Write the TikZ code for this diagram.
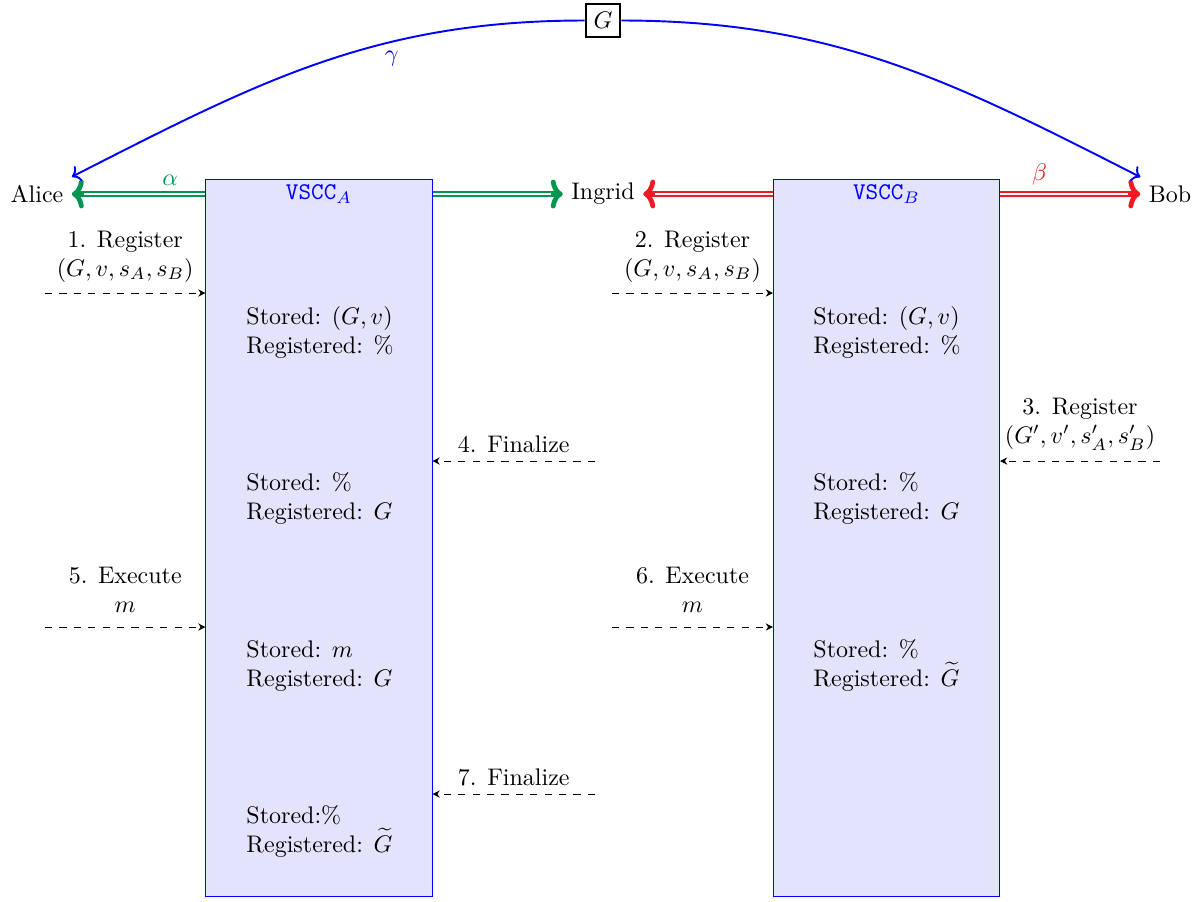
\documentclass[tikz,border=0pt]{standalone}
\usetikzlibrary{arrows.meta}
\definecolor{mygreen}{RGB}{0,150,80}
\definecolor{myred}{RGB}{237,28,36}
\definecolor{boxfill}{RGB}{227,227,251}
\tikzset{
  gbox/.style={draw, thick},
  dbl/.style={thick, double, double distance=1.1pt, shorten <=2pt, shorten >=2pt},
  tiparr/.style={thick, -{Computer Modern Rightarrow[length=5pt,width=12pt,line width=2pt]}},
  vbox/.style={draw=blue, fill=boxfill, minimum width=94.2pt, minimum height=298.8pt, inner sep=0pt},
  txt/.style={anchor=base west, inner sep=0pt},
  dasharr/.style={dashed, -{Stealth[length=3pt,width=3pt]}},
  lbl/.style={align=center},
  curv/.style={blue, thick, ->},
}
\begin{document}
\begin{tikzpicture}[x=0.4167pt,y=-0.4167pt]
\useasboundingbox (0,0) rectangle (1199,901);

% participants
\node (Alice) at (37,194) {Alice};
\node (Ingrid) at (603,194) {Ingrid};
\node (Bob) at (1170,194) {Bob};
\node[gbox] (G) at (603,20.5) {$G$};

% channels
\draw[dbl, draw=mygreen] (Alice) -- node[above, pos=0.2, text=mygreen] (alpha) {$\alpha$} (Ingrid);
\draw[dbl, draw=myred] (Ingrid) -- node[above, pos=0.797, text=myred] (beta) {$\beta$} (Bob);
\draw[tiparr, mygreen] ([xshift=5pt]Alice.east) -- (Alice.east);
\draw[tiparr, mygreen] ([xshift=-5pt]Ingrid.west) -- (Ingrid.west);
\draw[tiparr, myred] ([xshift=5pt]Ingrid.east) -- (Ingrid.east);
\draw[tiparr, myred] ([xshift=-5pt]Bob.west) -- (Bob.west);

% curve through G
\draw[curv] (G.west) to[out=180,in=27] node[below, pos=0.35] (gamma) {$\gamma$} (Alice.north east);
\draw[curv] (G.east) to[out=0,in=153] (Bob.north west);

% contract boxes
\node[vbox] (VA) at (319,537.5) {};
\node[vbox] (VB) at (886.5,537.5) {};
\node[text=blue] (LA) at (319,194) {\texttt{VSCC}$_A$};
\node[text=blue] (LB) at (886.5,194) {\texttt{VSCC}$_B$};

% box contents A
\node[txt] (a1s) at (246,324) {Stored: $(G,v)$};
\node[txt] (a1r) at (246,353) {Registered: \%};
\node[txt] (a2s) at (246,490) {Stored: \%};
\node[txt] (a2r) at (246,519) {Registered: $G$};
\node[txt] (a3s) at (246,657) {Stored: $m$};
\node[txt] (a3r) at (246,686) {Registered: $G$};
\node[txt] (a4s) at (246,823) {Stored:\%};
\node[txt] (a4r) at (246,852) {Registered: $\widetilde{G}$};

% box contents B
\node[txt] (b1s) at (813,324) {Stored: $(G,v)$};
\node[txt] (b1r) at (813,353) {Registered: \%};
\node[txt] (b2s) at (813,490) {Stored: \%};
\node[txt] (b2r) at (813,519) {Registered: $G$};
\node[txt] (b3s) at (813,657) {Stored: \%};
\node[txt] (b3r) at (813,686) {Registered: $\widetilde{G}$};

% message arrows
\coordinate (c1) at (45,293);
\coordinate (c2) at (612,293);
\coordinate (c3) at (1160,461);
\coordinate (c4) at (595,461);
\coordinate (c5) at (45,627);
\coordinate (c6) at (612,627);
\coordinate (c7) at (595,794);

\draw[dasharr] (c1) -- node[above=1pt, lbl] (m1) {1. Register\\$(G,v,s_A,s_B)$} (c1 -| VA.west);
\draw[dasharr] (c2) -- node[above=1pt, lbl] (m2) {2. Register\\$(G,v,s_A,s_B)$} (c2 -| VB.west);
\draw[dasharr] (c3) -- node[above=1pt, lbl] (m3) {3. Register\\$(G',v',s'_A,s'_B)$} (c3 -| VB.east);
\draw[dasharr] (c4) -- node[above, lbl] (m4) {4. Finalize} (c4 -| VA.east);
\draw[dasharr] (c5) -- node[above=2.5pt, lbl] (m5) {5. Execute\\$m$} (c5 -| VA.west);
\draw[dasharr] (c6) -- node[above=2.5pt, lbl] (m6) {6. Execute\\$m$} (c6 -| VB.west);
\draw[dasharr] (c7) -- node[above, lbl] (m7) {7. Finalize} (c7 -| VA.east);
\end{tikzpicture}
\end{document}
